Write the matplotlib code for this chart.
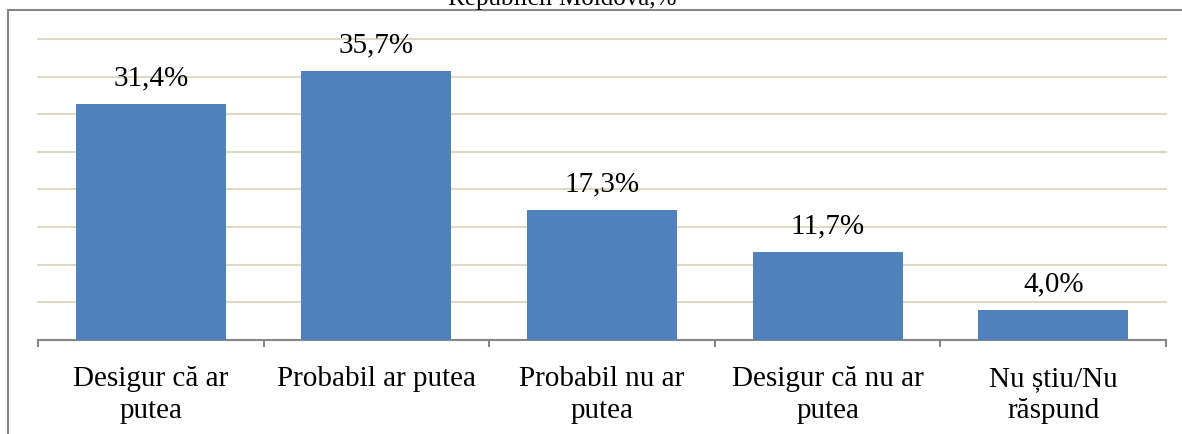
import matplotlib
matplotlib.use("Agg")
import matplotlib.pyplot as plt
from matplotlib.patches import Rectangle

categories = ["Desigur că ar\nputea", "Probabil ar putea", "Probabil nu ar\nputea",
              "Desigur că nu ar\nputea", "Nu știu/Nu\nrăspund"]
values = [31.4, 35.7, 17.3, 11.7, 4.0]
value_labels = ["31,4%", "35,7%", "17,3%", "11,7%", "4,0%"]
title_text = "Republicii Moldova,%"

plt.rcParams['font.family'] = ['Liberation Serif', 'DejaVu Serif']

W, H = 1182, 434
FS = 21
fig = plt.figure(figsize=(W / 100, H / 100), dpi=100)

# outer frame
fig.patches.append(Rectangle((8 / W, -0.1), 1.2, 1 - 10 / H + 0.1, transform=fig.transFigure,
                             fill=False, edgecolor='#868686', linewidth=1.5))
fig.text(562 / W, 1 - 5 / H, title_text, ha='center', va='baseline', fontsize=18)

ax = fig.add_axes([38 / W, (H - 340) / H, 1128 / W, 301 / H])
x = range(len(categories))
bars = ax.bar(x, values, width=0.665, color='#4F81BD', zorder=3)
ax.set_xlim(-0.5, len(categories) - 0.5)
ax.set_ylim(0, 40)
ax.set_yticks(range(5, 41, 5))
ax.yaxis.grid(True, color='#DDD9C3', linewidth=1.5, zorder=0)
for gl in ax.get_ygridlines():
    gl.set_clip_on(False)
ax.tick_params(axis='y', length=0, labelleft=False)
for s in ['top', 'right', 'left']:
    ax.spines[s].set_visible(False)
ax.spines['bottom'].set_color('#868686')
ax.spines['bottom'].set_linewidth(1.5)

ax.set_xticks([i - 0.5 for i in range(len(categories) + 1)], minor=False)
ax.set_xticklabels([])
ax.tick_params(axis='x', which='major', length=5, width=1.5, color='#868686')
ax.set_xticks(list(x), minor=True)
ax.set_xticklabels(categories, minor=True, fontsize=FS, linespacing=1.3)
ax.tick_params(axis='x', which='minor', length=0, pad=19)

for b, lab in zip(bars, value_labels):
    ax.annotate(lab, (b.get_x() + b.get_width() / 2, b.get_height()),
                xytext=(0, 13.5), textcoords='offset points', ha='center', va='baseline', fontsize=FS)

fig.savefig("out.png", dpi=100)
